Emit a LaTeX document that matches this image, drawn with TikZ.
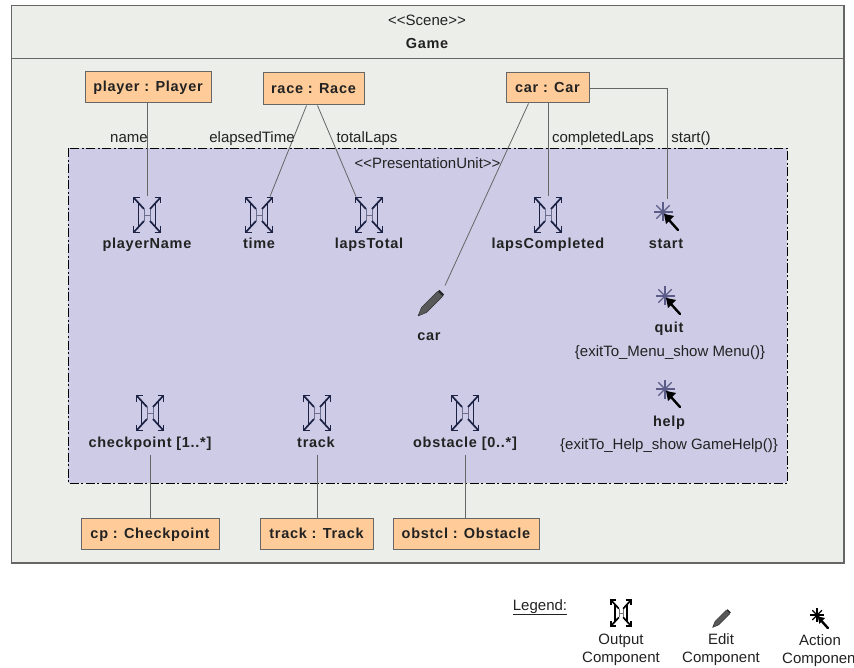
\documentclass[tikz,border=0pt]{standalone}
\usepackage{fontspec}
\setmainfont{Liberation Sans}
\usepackage{tikz}
\usetikzlibrary{arrows,calc,positioning}
\definecolor{sceneback}{HTML}{ECEEE9}
\definecolor{unitback}{HTML}{CDCBE6}
\definecolor{boxback}{HTML}{FFCC99}
\definecolor{linegray}{HTML}{666666}
\definecolor{inktext}{HTML}{222222}
\definecolor{iconink}{HTML}{1C2244}
\definecolor{starink}{HTML}{5C5C88}
\tikzset{
  objbox/.style={draw=linegray,line width=1pt,fill=boxback,inner sep=0pt,text height=12pt,text depth=3pt,font=\fontsize{14.5}{17}\selectfont\bfseries\addfontfeature{LetterSpace=5},text=inktext},
  compname/.style={inner sep=0pt,text height=13pt,text depth=3pt,font=\fontsize{14.5}{17}\selectfont\bfseries\addfontfeature{LetterSpace=5},text=inktext},
  plaintext/.style={inner sep=0pt,text height=13pt,text depth=3pt,font=\fontsize{15}{18}\selectfont,text=inktext},
  iconspot/.style={inner sep=0pt,outer sep=0pt,minimum width=28pt,minimum height=37pt},
  conn/.style={draw=linegray,line width=0.8pt},
  pics/outputicon/.style={code={
    \draw[line width=1.6pt] (-8.5,-12) -- (-8.5,12) (8.5,-12) -- (8.5,12);
    \foreach \sx in {1,-1} \foreach \sy in {1,-1} {
      \begin{scope}[xscale=\sx,yscale=\sy]
        \draw[line width=1.7pt] (3,6) -- (13.5,17.5);
        \draw[line width=1.9pt,line join=miter] (7.5,17.5) -- (13.5,17.5) -- (13.5,11.5);
      \end{scope}
    }
    \draw[line width=0.6pt,opacity=0.55] (-3,-6) -- (-3,6) (3,-6) -- (3,6) (-3,0) -- (3,0);
  }},
  pics/actionicon/.style={code={
    \foreach \ang in {0,45,...,315} {\draw[line width=1.4pt,starink] (-4,-4) -- ++(\ang:9.5);}
    \draw[line width=2.4pt,black,line cap=round] (2,4) -- (11,14);
    \fill[black] (-3,-2) -- (7,0) -- (-1,8) -- cycle;
  }},
  pics/editicon/.style={code={
    \fill[black!65] (-12,12) -- (-8.5,3.5) -- (7.5,-12.5) -- (12.5,-7.5) -- (-3.5,8.5) -- cycle;
    \fill[black!85] (7.5,-12.5) -- (9.5,-14) -- (14,-9.5) -- (12.5,-7.5) -- cycle;
    \draw[line width=0.5pt,black!80] (-12,12) -- (-8.5,3.5) -- (7.5,-12.5) (-12,12) -- (-3.5,8.5) -- (12.5,-7.5);
  }},
}
\begin{document}
\begin{tikzpicture}[x=1pt,y=-1pt]
\useasboundingbox[fill=white] (0,0) rectangle (854,668);
% scene frame
\draw[draw=linegray,line width=1.2pt,fill=sceneback] (11.5,5.5) rectangle (844,563);
\draw[draw=linegray,line width=1pt] (11.5,59) -- (844,59);
\node[plaintext] (sceneStereo) at (427,21) {<{}<Scene>{}>};
\node[compname] (sceneName) at (427,44) {Game};
\draw[black,line width=0.9pt,fill=unitback,dash pattern=on 9pt off 2.5pt on 2pt off 2.5pt] (68,148.5) rectangle (787,483);
\node[plaintext] (unitStereo) at (427.5,164) {<{}<PresentationUnit>{}>};

\node[objbox,minimum width=126pt,minimum height=31pt] (player) at (148,87.5) {player : Player};
\node[objbox,minimum width=101pt,minimum height=32pt] (race) at (313.5,89) {race : Race};
\node[objbox,minimum width=83pt,minimum height=30pt] (car) at (547.5,88) {car : Car};
\node[objbox,minimum width=138pt,minimum height=31pt] (cp) at (150,533.5) {cp : Checkpoint};
\node[objbox,minimum width=113pt,minimum height=31pt] (trackObj) at (316.5,533.5) {track : Track};
\node[objbox,minimum width=146pt,minimum height=31pt] (obstcl) at (466,533.5) {obstcl : Obstacle};

\node[iconspot] (playerName) at (147,215) {};
\node[iconspot] (timeOut) at (259,215) {};
\node[iconspot] (lapsTotal) at (369,215) {};
\node[iconspot] (lapsCompleted) at (548,215) {};
\node[iconspot] (checkpoint) at (150,413) {};
\node[iconspot] (trackOut) at (317,413) {};
\node[iconspot] (obstacle) at (465,413) {};
\node[iconspot] (carEdit) at (430,304) {};
\node[iconspot] (startAct) at (667,216) {};
\node[iconspot] (quitAct) at (669,300) {};
\node[iconspot] (helpAct) at (669,393) {};
\coordinate (cpEnd) at (150,455);
\coordinate (trackEnd) at (317,455);
\coordinate (obstclEnd) at (465,455);

\draw[conn] (player.south -| playerName.north) -- (playerName.north);
\draw[conn] ([xshift=-7pt]race.south) -- ([xshift=11pt]timeOut.north);
\draw[conn] ([xshift=4pt]race.south) -- ([xshift=-13pt]lapsTotal.north);
\draw[conn] ([xshift=-19pt]car.south) -- ([xshift=15pt]carEdit.north);
\draw[conn] (car.south -| lapsCompleted.north) -- (lapsCompleted.north);
\draw[conn] (car.east) -- (startAct.north |- car.east) -- ([yshift=-2pt]startAct.north);
\draw[conn] (cp.north -| cpEnd) -- (cpEnd);
\draw[conn] (trackObj.north -| trackEnd) -- (trackEnd);
\draw[conn] (obstcl.north -| obstclEnd) -- (obstclEnd);

\pic[iconink] at (playerName) {outputicon};
\pic[iconink] at (timeOut) {outputicon};
\pic[iconink] at (lapsTotal) {outputicon};
\pic[iconink] at (lapsCompleted) {outputicon};
\pic[iconink] at (checkpoint) {outputicon};
\pic[iconink] at (trackOut) {outputicon};
\pic[iconink] at (obstacle) {outputicon};
\pic at (carEdit) {editicon};
\pic at (startAct) {actionicon};
\pic at (quitAct) {actionicon};
\pic at (helpAct) {actionicon};

\node[plaintext] (nameLabel) at (129,138) {name};
\node[plaintext] (elapsedLabel) at (252,138) {elapsedTime};
\node[plaintext] (totalLabel) at (367,138) {totalLaps};
\node[plaintext] (completedLabel) at (603,138) {completedLaps};
\node[plaintext] (startLabel) at (691,138) {start()};

\node[compname] (playerNameText) at (147,244) {playerName};
\node[compname] (timeText) at (259,244) {time};
\node[compname] (lapsTotalText) at (369,244) {lapsTotal};
\node[compname] (lapsCompletedText) at (548,244) {lapsCompleted};
\node[compname] (startText) at (666,244) {start};
\node[compname] (carText) at (429,335) {car};
\node[compname] (quitText) at (669,328) {quit};
\node[plaintext] (quitNote) at (670,351) {\{exitTo\_Menu\_show Menu()\}};
\node[compname] (helpText) at (669,421) {help};
\node[plaintext] (helpNote) at (669,444) {\{exitTo\_Help\_show GameHelp()\}};
\node[compname] (checkpointText) at (150,442) {checkpoint [1..*]};
\node[compname] (trackText) at (316,442) {track};
\node[compname] (obstacleText) at (465,442) {obstacle [0..*]};

% legend
\colorlet{starink}{black}
\node[plaintext] (legendText) at (540,605) {\underline{Legend:}};
\node[iconspot] (legendOut) at (621,613) {};
\node[iconspot] (legendEdit) at (721,619) {};
\node[iconspot] (legendAct) at (820,618) {};
\pic[black,scale=0.72] at (legendOut) {outputicon};
\pic[scale=0.7] at (legendEdit) {editicon};
\pic[scale=0.72] at (legendAct) {actionicon};
\node[plaintext] (legendOutA) at (621,639) {Output};
\node[plaintext] (legendOutB) at (621,657) {Component};
\node[plaintext] (legendEditA) at (721,639) {Edit};
\node[plaintext] (legendEditB) at (721,657) {Component};
\node[plaintext] (legendActA) at (820,640) {Action};
\node[plaintext,anchor=west] (legendActB) at (782,658) {Componen};
\end{tikzpicture}
\end{document}
